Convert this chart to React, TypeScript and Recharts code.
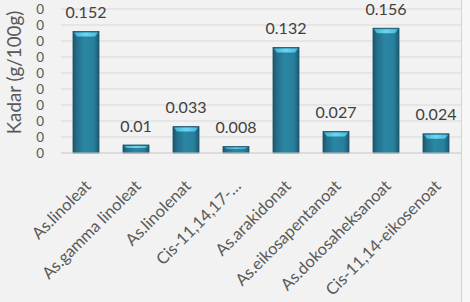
import React from "react";
import { BarChart, Bar, XAxis, YAxis, CartesianGrid, LabelList } from "recharts";

const categories = [
  "As.linoleat",
  "As.gamma linoleat",
  "As.linolenat",
  "Cis-11,14,17-…",
  "As.arakidonat",
  "As.eikosapentanoat",
  "As.dokosaheksanoat",
  "Cis-11,14-eikosenoat",
];
const values = [0.152, 0.01, 0.033, 0.008, 0.132, 0.027, 0.156, 0.024];
const yTicks = [0, 0.02, 0.04, 0.06, 0.08, 0.1, 0.12, 0.14, 0.16, 0.18];
const yTickLabels = ["0", "0", "0", "0", "0", "0", "0", "0", "0", "0"];
const yTitle = "Kadar (g/100g)";

const data = categories.map((name, i) => ({ name, value: values[i] }));

const FONT = "Lato, 'Open Sans', sans-serif";

const BarShape = (props: any) => {
  const { x, y, width, height } = props;
  if (!height || height <= 0) return null;
  const b = Math.min(3, width / 6);
  const topH = Math.min(5, Math.max(2, height / 2 - 1));
  return (
    <g>
      <rect x={x} y={y} width={width} height={height} fill="url(#barBody)" />
      <rect x={x} y={y} width={width} height={height} fill="none" stroke="#1b5268" strokeWidth={0.8} />
      <polygon
        points={`${x + 1},${y + 1} ${x + width - 1},${y + 1} ${x + width - b - 1},${y + topH} ${x + b + 1},${y + topH}`}
        fill="url(#barTop)"
      />
    </g>
  );
};

const XTick = (props: any) => {
  const { x, y, payload } = props;
  return (
    <text
      x={0}
      y={0}
      transform={`translate(${x + 6},${y + 26}) rotate(-45)`}
      textAnchor="end"
      fill="#595959"
      fontSize={16.5}
      fontFamily={FONT}
    >
      {payload.value}
    </text>
  );
};

const YTitle = (props: any) => {
  const { viewBox } = props;
  const cx = 13.5;
  const cy = viewBox.y + viewBox.height / 2 - 8.5;
  return (
    <text
      x={cx}
      y={cy}
      transform={`rotate(-90, ${cx}, ${cy})`}
      textAnchor="middle"
      dominantBaseline="central"
      fill="#595959"
      fontSize={18.8}
      fontFamily={FONT}
    >
      {yTitle}
    </text>
  );
};

export default function App() {
  return (
    <div style={{ position: "absolute", left: 0, top: 0, width: 470, height: 302, background: "#f7f7f7" }}>
      <div style={{ position: "absolute", left: 0, top: 0, width: 461, height: 302, background: "#f2f2f2", borderRight: "1px solid #d4d4d4" }} />
      <div style={{ position: "absolute", left: 0, top: 0 }}>
        <BarChart
          width={462}
          height={302}
          data={data}
          margin={{ top: 9, right: 1, bottom: 0, left: 0 }}
          barCategoryGap="24%"
        >
          <defs>
            <linearGradient id="barBody" x1="0" y1="0" x2="1" y2="0">
              <stop offset="0%" stopColor="#1c566d" />
              <stop offset="15%" stopColor="#246f8a" />
              <stop offset="45%" stopColor="#2a86a3" />
              <stop offset="80%" stopColor="#27809c" />
              <stop offset="100%" stopColor="#1d5a72" />
            </linearGradient>
            <linearGradient id="barTop" x1="0" y1="0" x2="1" y2="0">
              <stop offset="0%" stopColor="#3fb3d6" />
              <stop offset="50%" stopColor="#6cd6f2" />
              <stop offset="100%" stopColor="#44b8da" />
            </linearGradient>
          </defs>
          <CartesianGrid vertical={false} stroke="#d9d9d9" />
          <XAxis
            dataKey="name"
            interval={0}
            height={149}
            tickLine={false}
            axisLine={{ stroke: "#d0d0d0" }}
            tick={<XTick />}
          />
          <YAxis
            width={61}
            domain={[0, 0.18]}
            ticks={yTicks}
            interval={0}
            tickFormatter={(v: number) => yTickLabels[yTicks.indexOf(v)] ?? "0"}
            axisLine={false}
            tickLine={false}
            tick={{ fill: "#595959", fontSize: 13.5, fontFamily: FONT }}
            tickMargin={11}
            label={<YTitle />}
          />
          <Bar dataKey="value" shape={<BarShape />} isAnimationActive={false}>
            <LabelList
              dataKey="value"
              position="top"
              offset={13.5}
              fill="#404040"
              fontSize={16}
              fontFamily={FONT}
            />
          </Bar>
        </BarChart>
      </div>
    </div>
  );
}
